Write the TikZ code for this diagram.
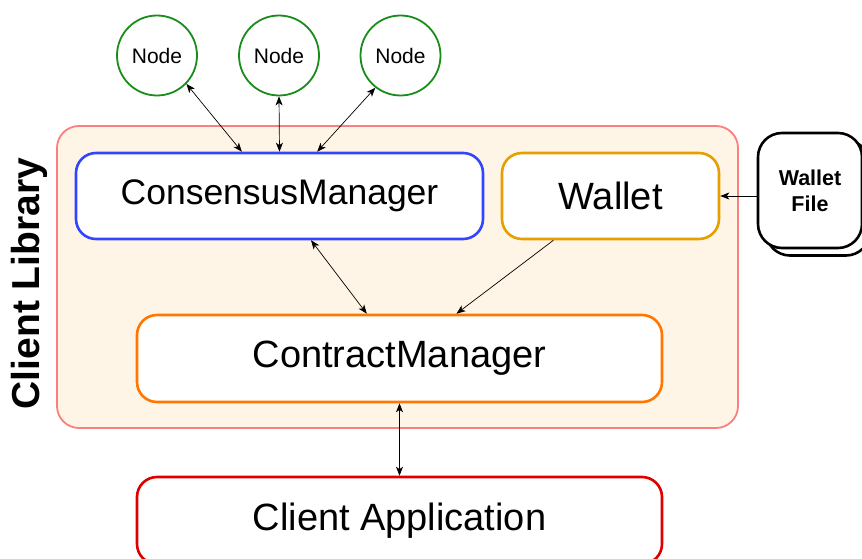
\documentclass[tikz,border=0pt]{standalone}
\usepackage{fontspec}
\setmainfont{Liberation Sans}
\usetikzlibrary{arrows.meta,calc}

\definecolor{libfill}{HTML}{FFF5E6}
\definecolor{libdraw}{HTML}{FA7F7F}
\definecolor{cmblue}{HTML}{3344FF}
\definecolor{walletor}{HTML}{E69F00}
\definecolor{contractor}{HTML}{FF7700}
\definecolor{appred}{HTML}{DD0000}
\definecolor{peergreen}{HTML}{1A8C1A}

\begin{document}
\begin{tikzpicture}[x=1pt,y=-1pt,
  box/.style={draw, fill=white, rounded corners=20pt, line width=2.6pt,
    inner sep=0pt, align=center},
  peer/.style={circle, draw=peergreen, fill=white, line width=1.8pt,
    minimum size=80pt, inner sep=0pt, font=\fontsize{21}{25}\selectfont},
  filebox/.style={draw=black, fill=white, rounded corners=24pt, line width=2.6pt,
    minimum width=104pt, minimum height=115pt, inner sep=0pt, align=center},
  link/.style={line width=0.7pt, -{Stealth[length=9pt,width=7pt,inset=2.5pt]}},
  blink/.style={line width=0.7pt, {Stealth[length=9pt,width=7pt,inset=2.5pt]}-{Stealth[length=9pt,width=7pt,inset=2.5pt]}}
]
\useasboundingbox (0,0) rectangle (862,559);
\fill[white] (0,0) rectangle (862,559);

% client library container
\node[draw=libdraw, fill=libfill, rounded corners=22pt, line width=1.8pt,
  minimum width=681pt, minimum height=302pt, inner sep=0pt] (lib) at (397.5,277) {};
\node[rotate=90, font=\fontsize{39}{44}\selectfont\bfseries] (libtitle) at (29,283.5) {Client Library};

% peers
\node[peer] (n1) at (157,55.5) {Node};
\node[peer] (n2) at (279,55.5) {Node};
\node[peer] (n3) at (400.5,55.5) {Node};

% components
\node[box, draw=cmblue, minimum width=407pt, minimum height=86pt,
  font=\fontsize{35.5}{40}\selectfont] (cm) at (279.5,196) {ConsensusManager};
\node[box, draw=walletor, minimum width=217pt, minimum height=86pt,
  font=\fontsize{38}{44}\selectfont] (wallet) at (610.5,196) {Wallet};
\node[box, draw=contractor, minimum width=525pt, minimum height=87pt,
  font=\fontsize{38}{44}\selectfont] (ctm) at (399.5,358.5) {ContractManager};
\node[box, draw=appred, minimum width=525pt, minimum height=87pt,
  font=\fontsize{38}{44}\selectfont] (app) at (399.5,520.5) {Client Application};

% wallet file (stacked sheets)
\node[filebox] (wfback) at (818,198) {};
\node[filebox, font=\fontsize{21.5}{26}\selectfont\bfseries] (wf) at (810,190.5) {Wallet\\File};

% connectors
\draw[blink] (n1.-44) -- ($(cm.north west)!0.408!(cm.north east)$);
\draw[blink] (n2.south) -- (cm.north);
\draw[blink] (n3.-128) -- ($(cm.north west)!0.592!(cm.north east)$);
\draw[blink] ($(cm.south west)!0.577!(cm.south east)$) -- ($(ctm.north west)!0.438!(ctm.north east)$);
\draw[link] ($(wallet.south west)!0.24!(wallet.south east)$) -- ($(ctm.north west)!0.608!(ctm.north east)$);
\draw[link] (wallet.east -| wf.west) -- (wallet.east);
\draw[blink] (ctm.south) -- (app.north);
\end{tikzpicture}
\end{document}
